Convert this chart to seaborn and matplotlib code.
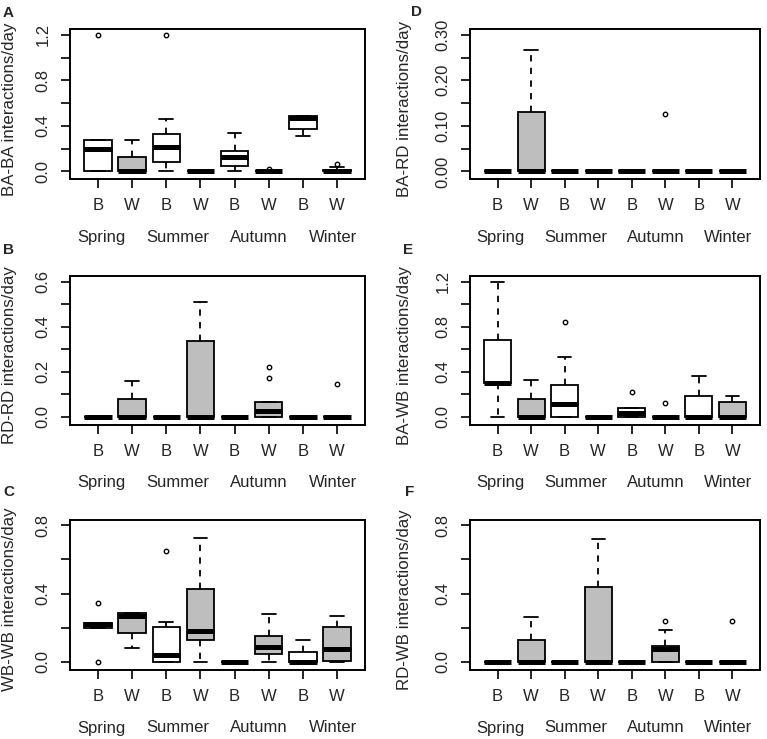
import matplotlib
matplotlib.use("Agg")
import matplotlib.pyplot as plt
import pandas as pd
import seaborn as sns

# ---------------- data ----------------
seasons = ["Spring", "Summer", "Autumn", "Winter"]
groups = ["B", "W"]
box_ids = [f"{s} {g}" for s in seasons for g in groups]

# observations per box (order: Spring B, Spring W, Summer B, Summer W,
# Autumn B, Autumn W, Winter B, Winter W)
ba_ba = [
    [0, 0, 0, 0.10, 0.20, 0.25, 0.275, 0.275, 1.20],
    [0, 0, 0, 0, 0, 0.05, 0.13, 0.20, 0.275],
    [0, 0.05, 0.084, 0.15, 0.214, 0.28, 0.325, 0.464, 1.20],
    [0, 0, 0, 0, 0, 0, 0, 0, 0],
    [0, 0.03, 0.049, 0.09, 0.128, 0.15, 0.18, 0.25, 0.339],
    [0, 0, 0, 0, 0, 0, 0, 0, 0.021],
    [0.31, 0.33, 0.374, 0.42, 0.47, 0.48, 0.484, 0.484, 0.484],
    [0, 0, 0, 0, 0, 0.01, 0.015, 0.035, 0.065],
]
rd_rd = [
    [0, 0, 0, 0, 0, 0, 0, 0, 0],
    [0, 0, 0, 0, 0, 0.04, 0.08, 0.12, 0.16],
    [0, 0, 0, 0, 0, 0, 0, 0, 0],
    [0, 0, 0, 0, 0, 0.20, 0.336, 0.45, 0.509],
    [0, 0, 0, 0, 0, 0, 0, 0, 0],
    [0, 0, 0, 0.01, 0.028, 0.05, 0.066, 0.172, 0.223],
    [0, 0, 0, 0, 0, 0, 0, 0, 0],
    [0, 0, 0, 0, 0, 0, 0, 0, 0.147],
]
wb_wb = [
    [0, 0.20, 0.20, 0.21, 0.22, 0.222, 0.226, 0.226, 0.342],
    [0.079, 0.12, 0.172, 0.22, 0.27, 0.28, 0.284, 0.284, 0.284],
    [0, 0, 0, 0.02, 0.043, 0.12, 0.203, 0.236, 0.647],
    [0, 0.06, 0.126, 0.15, 0.178, 0.30, 0.427, 0.60, 0.725],
    [0, 0, 0, 0, 0, 0, 0, 0, 0],
    [0, 0.02, 0.044, 0.07, 0.087, 0.12, 0.153, 0.20, 0.28],
    [0, 0, 0, 0, 0, 0.03, 0.058, 0.10, 0.129],
    [0, 0, 0.008, 0.04, 0.075, 0.15, 0.203, 0.24, 0.269],
]
ba_rd = [
    [0, 0, 0, 0, 0, 0, 0, 0, 0],
    [0, 0, 0, 0, 0, 0.05, 0.13, 0.20, 0.267],
    [0, 0, 0, 0, 0, 0, 0, 0, 0],
    [0, 0, 0, 0, 0, 0, 0, 0, 0],
    [0, 0, 0, 0, 0, 0, 0, 0, 0],
    [0, 0, 0, 0, 0, 0, 0, 0, 0.125],
    [0, 0, 0, 0, 0, 0, 0, 0, 0],
    [0, 0, 0, 0, 0, 0, 0, 0, 0],
]
ba_wb = [
    [0, 0.15, 0.30, 0.30, 0.305, 0.50, 0.686, 0.90, 1.20],
    [0, 0, 0, 0, 0, 0.08, 0.157, 0.25, 0.329],
    [0, 0, 0, 0.05, 0.114, 0.20, 0.28, 0.529, 0.843],
    [0, 0, 0, 0, 0, 0, 0, 0, 0],
    [0, 0, 0, 0.02, 0.037, 0.06, 0.08, 0.08, 0.22],
    [0, 0, 0, 0, 0, 0, 0, 0, 0.12],
    [0, 0, 0, 0, 0, 0.10, 0.186, 0.25, 0.363],
    [0, 0, 0, 0, 0, 0.07, 0.137, 0.16, 0.19],
]
rd_wb = [
    [0, 0, 0, 0, 0, 0, 0, 0, 0],
    [0, 0, 0, 0, 0, 0.07, 0.13, 0.20, 0.26],
    [0, 0, 0, 0, 0, 0, 0, 0, 0],
    [0, 0, 0, 0, 0, 0.25, 0.439, 0.60, 0.719],
    [0, 0, 0, 0, 0, 0, 0, 0, 0],
    [0, 0, 0, 0.05, 0.075, 0.085, 0.091, 0.187, 0.24],
    [0, 0, 0, 0, 0, 0, 0, 0, 0],
    [0, 0, 0, 0, 0, 0, 0, 0, 0.24],
]

ticks_12 = [0.0, 0.2, 0.4, 0.6, 0.8, 1.0, 1.2]
labels_12 = ["0.0", "", "0.4", "", "0.8", "", "1.2"]
ticks_03 = [0.0, 0.05, 0.10, 0.15, 0.20, 0.25, 0.30]
labels_03 = ["0.00", "", "0.10", "", "0.20", "", "0.30"]
ticks_06 = [0.0, 0.1, 0.2, 0.3, 0.4, 0.5, 0.6]
labels_06 = ["0.0", "", "0.2", "", "0.4", "", "0.6"]
ticks_08 = [0.0, 0.2, 0.4, 0.6, 0.8]
labels_08 = ["0.0", "", "0.4", "", "0.8"]

# ---------------- style ----------------
sns.set_style("white")
plt.rcParams["font.family"] = ["Liberation Sans", "DejaVu Sans"]

W, H = 767, 739
fig = plt.figure(figsize=(W / 100, H / 100), dpi=100)

# (letter, ylabel, values, ticks, ticklabels, ymax, [left, top, width, height] px,
#  letter pos px, ylabel right-edge offset px)
panels = [
    ("A", "BA-BA interactions/day", ba_ba, ticks_12, labels_12, 1.2, (70, 29, 295, 150), (3, 17), 53),
    ("B", "RD-RD interactions/day", rd_rd, ticks_06, labels_06, 0.6, (70, 276, 295, 148.5), (3, 254), 53),
    ("C", "WB-WB interactions/day", wb_wb, ticks_08, labels_08, 0.8, (70, 519.5, 295, 150), (3, 496), 53),
    ("D", "BA-RD interactions/day", ba_rd, ticks_03, labels_03, 0.3, (470, 29, 290, 150), (411, 16), 58),
    ("E", "BA-WB interactions/day", ba_wb, ticks_12, labels_12, 1.2, (470, 276, 290, 148.5), (403, 254), 58),
    ("F", "RD-WB interactions/day", rd_wb, ticks_08, labels_08, 0.8, (470, 519.5, 290, 150), (405, 496), 58),
]

season_x = [0.106, 0.364, 0.640, 0.890]
FS = 12

for letter, ylab, values, yt, ytl, ymax, (l, t, w, h), (lx, ly), yoff in panels:
    ax = fig.add_axes([l / W, 1 - (t + h) / H, w / W, h / H])
    rows = [(box_ids[i], box_ids[i].split()[1], v)
            for i, vals in enumerate(values) for v in vals]
    df = pd.DataFrame(rows, columns=["box", "group", "value"])
    sns.boxplot(
        data=df, x="box", y="value", hue="group", order=box_ids, hue_order=groups,
        palette={"B": "white", "W": "#BEBEBE"}, dodge=False, width=0.8,
        linecolor="black", linewidth=1.3, whis=1.5, legend=False, ax=ax,
        flierprops=dict(marker="o", markersize=3.2, markerfacecolor="white",
                        markeredgecolor="black", markeredgewidth=1.0),
        medianprops=dict(linewidth=3.6, color="black", solid_capstyle="butt"),
        whiskerprops=dict(linestyle=(0, (3.5, 3.5))),
    )
    ax.set_xlim(-0.82, 7.82)
    ax.set_ylim(-0.0556 * ymax, 1.042 * ymax)
    ax.set_yticks(yt)
    ax.set_yticklabels(ytl, rotation=90, va="center", fontsize=FS)
    ax.set_xticks(range(len(box_ids)))
    ax.set_xticklabels(groups * len(seasons), fontsize=FS)
    ax.tick_params(axis="both", direction="out", length=6.2, width=1.2,
                   color="black", bottom=True, left=True)
    ax.tick_params(axis="y", pad=8)
    ax.tick_params(axis="x", pad=7.5)
    for sp in ax.spines.values():
        sp.set_visible(True)
        sp.set_color("black")
        sp.set_linewidth(1.4)
    ax.set_xlabel("")
    ax.set_ylabel(ylab, fontsize=12.2)
    ax.yaxis.set_label_coords(-yoff / w, 0.5 - 5 / h)
    for s, xf in zip(seasons, season_x):
        ax.text(xf, -0.39, s, transform=ax.transAxes, ha="center", va="center",
                fontsize=FS)
    fig.text(lx / W, 1 - ly / H, letter, fontweight="bold", fontsize=11,
             ha="left", va="baseline")

fig.savefig("out.png", dpi=100)
